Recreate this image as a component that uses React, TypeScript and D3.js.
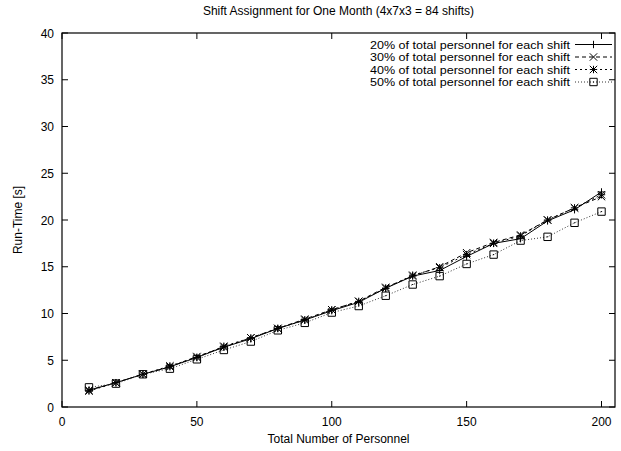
import React from "react";
import * as d3 from "d3";

const personnel = [10, 20, 30, 40, 50, 60, 70, 80, 90, 100, 110, 120, 130, 140, 150, 160, 170, 180, 190, 200];
const pct20 = [1.8, 2.6, 3.5, 4.3, 5.3, 6.4, 7.3, 8.4, 9.3, 10.3, 11.2, 12.7, 14.0, 14.6, 16.1, 17.5, 18.0, 19.9, 21.1, 23.0];
const pct30 = [1.8, 2.6, 3.5, 4.3, 5.4, 6.4, 7.4, 8.4, 9.4, 10.4, 11.3, 12.8, 14.0, 15.0, 16.5, 17.6, 18.4, 20.0, 21.3, 22.5];
const pct40 = [1.7, 2.6, 3.5, 4.4, 5.3, 6.5, 7.4, 8.4, 9.3, 10.4, 11.3, 12.7, 14.1, 14.9, 16.3, 17.5, 18.3, 20.0, 21.3, 22.7];
const pct50 = [2.1, 2.5, 3.5, 4.1, 5.1, 6.1, 7.0, 8.2, 9.0, 10.1, 10.8, 11.9, 13.1, 14.0, 15.3, 16.3, 17.8, 18.2, 19.7, 20.9];
const seriesLabels = [
  "20% of total personnel for each shift",
  "30% of total personnel for each shift",
  "40% of total personnel for each shift",
  "50% of total personnel for each shift",
];
const xTicks = [0, 50, 100, 150, 200];
const yTicks = [0, 5, 10, 15, 20, 25, 30, 35, 40];

const W = 621, H = 451;
const L = 62, R = 615, T = 33, B = 407;
const FONT = "'Liberation Sans', Arial, Helvetica, sans-serif";
const FS = 12;

const x = d3.scaleLinear().domain([0, 205]).range([L, R]);
const y = d3.scaleLinear().domain([0, 40]).range([B, T]);

type Marker = "plus" | "cross" | "star" | "box";

function markerPath(kind: Marker, cx: number, cy: number): React.ReactNode {
  const s = 3.7;
  const p = d3.path();
  if (kind === "plus" || kind === "star") {
    p.moveTo(cx - s, cy); p.lineTo(cx + s, cy);
    p.moveTo(cx, cy - s); p.lineTo(cx, cy + s);
  }
  if (kind === "cross" || kind === "star") {
    p.moveTo(cx - s, cy - s); p.lineTo(cx + s, cy + s);
    p.moveTo(cx - s, cy + s); p.lineTo(cx + s, cy - s);
  }
  if (kind === "box") {
    p.rect(cx - s, cy - s, 2 * s, 2 * s);
    p.moveTo(cx - 0.6, cy); p.lineTo(cx + 0.6, cy);
  }
  return <path d={p.toString()} fill="none" stroke="#000" strokeWidth={1} />;
}

const series = [
  { values: pct20, dash: "none", marker: "plus" as Marker, color: "#000" },
  { values: pct30, dash: "4,3", marker: "cross" as Marker, color: "#000" },
  { values: pct40, dash: "2,3", marker: "star" as Marker, color: "#000" },
  { values: pct50, dash: "1,2", marker: "box" as Marker, color: "#333" },
];

export default function App() {
  const line = d3
    .line<number>()
    .x((_, i) => x(personnel[i]))
    .y((d) => y(d));
  const tl = 6;
  return (
    <svg width={W} height={H} style={{ position: "absolute", left: 0, top: 0, background: "#fff" }}>
      <rect x={0} y={0} width={W} height={H} fill="#fff" />
      <text x={(L + R) / 2} y={15} textAnchor="middle" fontFamily={FONT} fontSize={FS}>
        Shift Assignment for One Month (4x7x3 = 84 shifts)
      </text>
      {xTicks.map((t) => (
        <g key={"xt" + t}>
          <line x1={x(t)} x2={x(t)} y1={B} y2={B - tl} stroke="#000" />
          <line x1={x(t)} x2={x(t)} y1={T} y2={T + tl} stroke="#000" />
          <text x={x(t)} y={B + 19} textAnchor="middle" fontFamily={FONT} fontSize={FS}>
            {t}
          </text>
        </g>
      ))}
      {yTicks.map((t) => (
        <g key={"yt" + t}>
          <line x1={L} x2={L + tl} y1={y(t)} y2={y(t)} stroke="#000" />
          <line x1={R} x2={R - tl} y1={y(t)} y2={y(t)} stroke="#000" />
          <text x={L - 8} y={y(t) + 4.5} textAnchor="end" fontFamily={FONT} fontSize={FS}>
            {t}
          </text>
        </g>
      ))}
      <rect x={L} y={T} width={R - L} height={B - T} fill="none" stroke="#000" strokeWidth={1.2} />
      <text x={(L + R) / 2} y={443} textAnchor="middle" fontFamily={FONT} fontSize={FS}>
        Total Number of Personnel
      </text>
      <text
        transform={`translate(22, ${(T + B) / 2}) rotate(-90)`}
        textAnchor="middle"
        fontFamily={FONT}
        fontSize={FS}
      >
        Run-Time [s]
      </text>
      {series.map((s, si) => (
        <g key={"s" + si}>
          <path d={line(s.values) || ""} fill="none" stroke={s.color} strokeWidth={1} strokeDasharray={s.dash} />
          {s.values.map((v, i) => (
            <g key={i}>{markerPath(s.marker, x(personnel[i]), y(v))}</g>
          ))}
        </g>
      ))}
      {series.map((s, si) => {
        const ly = 44.5 + si * 12.5;
        return (
          <g key={"lg" + si}>
            <text
              x={370}
              y={ly + 4}
              textAnchor="start"
              fontFamily={FONT}
              fontSize={10.8}
              textLength={200}
              lengthAdjust="spacingAndGlyphs"
            >
              {seriesLabels[si]}
            </text>
            <line x1={575} x2={612} y1={ly} y2={ly} stroke={s.color} strokeWidth={1} strokeDasharray={s.dash} />
            {markerPath(s.marker, 593.5, ly)}
          </g>
        );
      })}
    </svg>
  );
}
